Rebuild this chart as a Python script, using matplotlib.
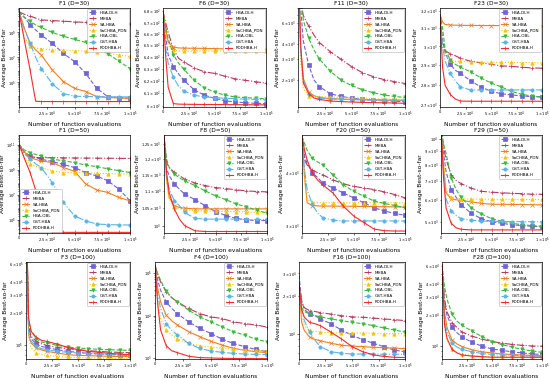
"""Convergence curves of seven HBA variants on CEC2017 functions (3 x 4 grid)."""

import math

import matplotlib
matplotlib.use("Agg")
import matplotlib.pyplot as plt
from matplotlib.ticker import LogLocator

X_EVALS = [0, 2500, 5000, 10000, 15000, 20000, 30000, 40000, 50000,
           60000, 70000, 80000, 90000, 100000]
X_TICKS = [0, 25000, 50000, 75000, 100000]
X_TICK_LABELS = ["0", r"$2.5\times10^{4}$", r"$5\times10^{4}$",
                 r"$7.5\times10^{4}$", r"$1\times10^{5}$"]

ALGORITHMS = ["HBA-DLH", "MHBA", "SA-HBA", "SaCHBA_PDN", "HBA-OBL",
              "GST-HBA", "PDDHBA-H"]
COLORS = ["#6f63d6", "#b83a5e", "#f07f1e", "#f5c400", "#3cb83c",
          "#5ab4e5", "#f52a2a"]
MARKERS = ["s", "+", "x", "^", "v", "o", "|"]
LINESTYLES = ["--", "-.", "-", ":", "--", "-.", "-"]

F1_D30 = {
    "HBA-DLH": [4.7e10, 2.5e10, 1.6e10, 4e9, 1.6e9, 6.3e8, 1.35e8, 2.1e7,
                4.7e6, 5.4e5, 3.4e4, 7.4e3, 6.2e3, 5.4e3],
    "MHBA": [4.7e10, 3.5e10, 2.8e10, 2e10, 1.4e10, 1e10, 8.9e9, 7.9e9,
             7.1e9, 6.3e9, 6e9, 5.6e9, 5.2e9, 5e9],
    "SA-HBA": [4.7e10, 1e10, 2e9, 1.35e8, 4e7, 1.6e7, 1e6, 1.2e5, 3.4e4,
               1.9e4, 7.4e3, 6.3e3, 5.8e3, 5.4e3],
    "SaCHBA_PDN": [4.7e10, 3.2e9, 4e8, 8e7, 5.6e7, 5e7, 4e7, 4e7, 3.5e7,
                   3.2e7, 2.8e7, 2.2e7, 1.6e7, 1.2e7],
    "HBA-OBL": [4.7e10, 2.5e10, 1.6e10, 7.9e9, 4e9, 2.5e9, 1e9, 5e8, 2.8e8,
                1.6e8, 6.3e7, 2e7, 5e6, 1.3e6],
    "GST-HBA": [4.7e10, 7.9e9, 1.6e9, 1.35e8, 1e7, 1.3e6, 8e4, 1.3e4, 8e3,
                7.6e3, 7.4e3, 7.2e3, 7.1e3, 7.1e3],
    "PDDHBA-H": [4.7e10, 3.2e9, 2e8, 1e6, 3.2e3, 3e3, 3e3, 3e3, 3e3, 3e3,
                 3e3, 3e3, 3e3, 3e3],
}

F6_D30 = {
    "HBA-DLH": [680, 658, 642, 632, 626, 620.7, 613, 608.5, 606, 604, 603,
                602.4, 601.9, 601.7],
    "MHBA": [680, 670, 661.5, 647, 639, 636, 631, 627.6, 626.3, 624, 621.8,
             620.6, 619.4, 618.2],
    "SA-HBA": [680, 664.7, 652.8, 648.5, 647.8, 647.6, 647.5, 647.4, 647.2,
               647, 646.9, 646.8, 646.6, 646.5],
    "SaCHBA_PDN": [680, 663, 650, 645.8, 645.2, 645, 645, 645.1, 645.2,
                   645.3, 645.3, 645.3, 645.3, 645.3],
    "HBA-OBL": [680, 667, 656, 642, 635, 630, 620.6, 614.5, 611, 608.5, 607,
                606.5, 606, 605.6],
    "GST-HBA": [680, 648, 635, 623, 616, 612, 608.5, 607, 606.5, 606, 605.6,
                605.3, 605, 604.8],
    "PDDHBA-H": [680, 642, 615, 601.7, 601.3, 601.2, 601.1, 601, 601, 600.9,
                 600.8, 600.8, 600.7, 600.7],
}

F11_D30 = {
    "HBA-DLH": [2e4, 8000, 4230, 2660, 2000, 1762, 1540, 1459, 1413, 1380,
                1355, 1340, 1330, 1320],
    "MHBA": [2e4, 9000, 6900, 5640, 4740, 4110, 3460, 2990, 2590, 2310, 2140,
             2020, 1940, 1870],
    "SA-HBA": [2e4, 3560, 2060, 1590, 1480, 1428, 1400, 1385, 1375, 1370,
               1365, 1360, 1357, 1355],
    "SaCHBA_PDN": [2e4, 2825, 1682, 1484, 1459, 1450, 1440, 1430, 1420, 1410,
                   1400, 1390, 1385, 1376],
    "HBA-OBL": [2e4, 1e4, 6320, 4470, 3560, 2990, 2380, 2000, 1800, 1660,
                1570, 1500, 1460, 1430],
    "GST-HBA": [2e4, 3360, 2000, 1540, 1459, 1413, 1390, 1380, 1372, 1368,
                1364, 1360, 1357, 1355],
    "PDDHBA-H": [2e4, 3980, 1890, 1540, 1413, 1376, 1336, 1320, 1310, 1300,
                 1295, 1290, 1285, 1278],
}

F23_D30 = {
    "HBA-DLH": [3178, 3034, 2969, 2905, 2874, 2858, 2820, 2789, 2767, 2755,
                2749, 2744, 2741, 2740],
    "MHBA": [3178, 3018, 2977, 2961, 2950, 2937, 2921, 2913, 2905, 2897,
             2894, 2890, 2886, 2885],
    "SA-HBA": [3178, 3135, 3121, 3118, 3117, 3116, 3116, 3115, 3115, 3115,
               3114, 3114, 3114, 3114],
    "SaCHBA_PDN": [3178, 3002, 2953, 2929, 2921, 2921, 2918, 2916, 2916,
                   2915, 2915, 2914, 2914, 2913],
    "HBA-OBL": [3178, 3101, 2985, 2929, 2905, 2890, 2866, 2835, 2809, 2789,
                2767, 2752, 2744, 2737],
    "GST-HBA": [3178, 3002, 2921, 2858, 2820, 2789, 2774, 2774, 2774, 2774,
                2774, 2774, 2774, 2774],
    "PDDHBA-H": [3178, 2890, 2797, 2752, 2729, 2719, 2718, 2718, 2718, 2718,
                 2718, 2718, 2718, 2718],
}

F1_D50 = {
    "HBA-DLH": [1.2e11, 5e10, 2.8e10, 1.35e10, 1e10, 7.4e9, 4.8e9, 2.8e9,
                1.6e9, 6.3e8, 3.4e8, 1.35e8, 3e7, 3.4e6],
    "MHBA": [1.2e11, 5e10, 2.5e10, 1.1e10, 1e10, 1e10, 9.8e9, 9.6e9, 9.4e9,
             9.2e9, 9e9, 8.9e9, 8.7e9, 8.5e9],
    "SA-HBA": [1.2e11, 5e10, 2.8e10, 1e10, 7.1e9, 5.4e9, 4e9, 1.6e9, 7.9e8,
               7.9e7, 2.5e7, 1.6e7, 6.3e6, 3.4e6],
    "SaCHBA_PDN": [1.2e11, 2.5e10, 1e10, 3e9, 2e9, 1.6e9, 8.5e8, 6.3e8,
                   6.3e8, 6e8, 5.6e8, 5.2e8, 5e8, 4.7e8],
    "HBA-OBL": [1.2e11, 6.3e10, 4e10, 2.5e10, 1.8e10, 1.35e10, 7.4e9, 5.6e9,
                4e9, 2.5e9, 1.9e9, 1.26e9, 8.9e8, 6.3e8],
    "GST-HBA": [1.2e11, 4e10, 2e10, 7.4e9, 3.2e9, 1.6e9, 1e8, 2.5e6, 2.1e5,
                8.5e4, 4.7e4, 4.2e4, 4e4, 3.9e4],
    "PDDHBA-H": [1.2e11, 3.2e10, 7.9e9, 6.3e8, 2.5e7, 1e6, 1e4, 1e4, 1e4,
                 1e4, 1e4, 1e4, 1e4, 1e4],
}

F8_D50 = {
    "HBA-DLH": [1279, 1168, 1147, 1121, 1105, 1090, 1074, 1056, 1039, 1028,
                1020, 1016, 1014, 1014],
    "MHBA": [1279, 1189, 1173, 1157, 1147, 1136, 1124, 1116, 1110, 1107,
             1103, 1100, 1098, 1097],
    "SA-HBA": [1279, 1136, 1080, 1056, 1051, 1049, 1047, 1047, 1047, 1047,
               1047, 1047, 1047, 1047],
    "SaCHBA_PDN": [1279, 1126, 1076, 1051, 1048, 1045, 1042, 1041, 1040,
                   1039, 1039, 1038, 1037, 1037],
    "HBA-OBL": [1279, 1200, 1173, 1152, 1140, 1131, 1116, 1100, 1085, 1074,
                1061, 1053, 1043, 1035],
    "GST-HBA": [1279, 1147, 1105, 1071, 1056, 1037, 1020, 1018, 1018, 1018,
                1018, 1017, 1017, 1017],
    "PDDHBA-H": [1279, 1157, 1095, 1047, 1018, 1000, 986, 984, 984, 984, 984,
                 984, 984, 984],
}

F20_D50 = {
    "HBA-DLH": [4863, 4357, 4204, 3986, 3900, 3778, 3680, 3583, 3489, 3397,
                3308, 3249, 3209, 3174],
    "MHBA": [4863, 4280, 4167, 4056, 4000, 3951, 3846, 3765, 3712, 3680,
             3648, 3603, 3552, 3489],
    "SA-HBA": [4863, 3916, 3397, 3347, 3340, 3337, 3337, 3335, 3333, 3330,
               3328, 3325, 3322, 3319],
    "SaCHBA_PDN": [4863, 3778, 3459, 3411, 3400, 3397, 3397, 3397, 3397,
                   3397, 3397, 3397, 3397, 3397],
    "HBA-OBL": [4863, 4677, 4512, 4318, 4240, 4167, 3951, 3745, 3616, 3520,
                3428, 3385, 3347, 3308],
    "GST-HBA": [4863, 4056, 3648, 3366, 3220, 3135, 3092, 3080, 3080, 3080,
                3080, 3080, 3080, 3080],
    "PDDHBA-H": [4863, 4512, 4280, 3986, 3846, 3745, 3583, 3337, 3165, 3053,
                 2947, 2921, 2916, 2916],
}

F29_D50 = {
    "HBA-DLH": [11000, 8853, 7601, 6525, 6126, 5752, 5357, 5128, 5000, 4937,
                4875, 4838, 4813, 4789],
    "MHBA": [11000, 9315, 8414, 7409, 7044, 6867, 6609, 6443, 6396, 6365,
             6333, 6317, 6285, 6285],
    "SA-HBA": [11000, 7998, 6365, 6048, 6000, 5975, 5898, 5825, 5782, 5782,
               5775, 5770, 5760, 5752],
    "SaCHBA_PDN": [11000, 8414, 6525, 6126, 6048, 6048, 6040, 6035, 6030,
                   6025, 6022, 6020, 6019, 6019],
    "HBA-OBL": [11000, 9550, 8853, 7224, 6525, 6126, 5606, 5330, 5128, 5025,
                4937, 4875, 4838, 4813],
    "GST-HBA": [11000, 7601, 6048, 5466, 5262, 5128, 5064, 5025, 5015, 5010,
                5005, 5000, 5000, 5000],
    "PDDHBA-H": [11000, 7224, 5606, 4937, 4752, 4692, 4669, 4669, 4669, 4669,
                 4669, 4669, 4669, 4669],
}

F3_D100 = {
    "HBA-DLH": [2.5e6, 1.44e5, 1.14e5, 1.015e5, 9.6e4, 9.43e4, 8.96e4, 8.64e4,
                8.45e4, 8.27e4, 8.15e4, 8.03e4, 7.97e4, 7.91e4],
    "MHBA": [2.5e6, 1.5e5, 1.2e5, 1.076e5, 1.02e5, 9.85e4, 9.43e4, 9.16e4,
             8.96e4, 8.77e4, 8.64e4, 8.51e4, 8.45e4, 8.39e4],
    "SA-HBA": [2.5e6, 1.245e5, 1.037e5, 9.3e4, 8.9e4, 8.64e4, 8.33e4, 8.03e4,
               7.91e4, 7.86e4, 7.8e4, 7.75e4, 7.72e4, 7.69e4],
    "SaCHBA_PDN": [2.5e6, 1.157e5, 9.3e4, 8.33e4, 8.03e4, 7.91e4, 7.69e4,
                   7.58e4, 7.52e4, 7.5e4, 7.46e4, 7.42e4, 7.39e4, 7.36e4],
    "HBA-OBL": [2.5e6, 1.67e5, 1.34e5, 1.14e5, 1.06e5, 1.037e5, 9.85e4, 9.5e4,
                9.3e4, 9.16e4, 9.03e4, 8.96e4, 8.9e4, 8.83e4],
    "GST-HBA": [2.5e6, 1.34e5, 1.076e5, 9.64e4, 9.16e4, 8.96e4, 8.64e4,
                8.45e4, 8.33e4, 8.21e4, 8.15e4, 8.09e4, 8.03e4, 8.03e4],
    "PDDHBA-H": [2.5e6, 1.8e5, 1.34e5, 1.175e5, 1.1e5, 1.076e5, 1.015e5,
                 9.43e4, 8.96e4, 8.64e4, 8.45e4, 8.27e4, 8.15e4, 8.03e4],
}

F4_D100 = {
    "HBA-DLH": [1.48e5, 6.6e4, 3.9e4, 2.08e4, 1.46e4, 1.11e4, 7.1e3, 5.0e3,
                3.8e3, 2.8e3, 2.23e3, 1.87e3, 1.62e3, 1.43e3],
    "MHBA": [1.48e5, 8.7e4, 6.1e4, 3.55e4, 2.6e4, 2.08e4, 1.46e4, 1.11e4,
             9.3e3, 8.5e3, 7.1e3, 6.5e3, 6.0e3, 5.4e3],
    "SA-HBA": [1.48e5, 4.2e4, 2.08e4, 1.02e4, 7.5e3, 6.0e3, 4.2e3, 3.2e3,
               2.5e3, 2.04e3, 1.71e3, 1.54e3, 1.43e3, 1.36e3],
    "SaCHBA_PDN": [1.48e5, 2.08e4, 8.5e3, 4.6e3, 3.5e3, 2.8e3, 2.23e3,
                   1.97e3, 1.84e3, 1.71e3, 1.65e3, 1.59e3, 1.54e3, 1.51e3],
    "HBA-OBL": [1.48e5, 9.5e4, 6.6e4, 3.7e4, 2.6e4, 2.08e4, 1.33e4, 9.3e3,
                7.1e3, 5.4e3, 4.2e3, 3.5e3, 2.8e3, 2.44e3],
    "GST-HBA": [1.48e5, 2.97e4, 1.46e4, 6.5e3, 4.5e3, 3.5e3, 2.23e3, 1.71e3,
                1.48e3, 1.38e3, 1.31e3, 1.26e3, 1.24e3, 1.22e3],
    "PDDHBA-H": [1.48e5, 1.74e4, 4.6e3, 1.97e3, 1.5e3, 1.36e3, 1.12e3,
                 1.04e3, 1.02e3, 1.0e3, 995, 990, 985, 982],
}

F16_D100 = {
    "HBA-DLH": [2.9e4, 1.81e4, 1.56e4, 1.43e4, 1.39e4, 1.31e4, 1.2e4, 1.07e4,
                9.7e3, 8.98e3, 8.4e3, 7.9e3, 7.4e3, 7.2e3],
    "MHBA": [2.5e4, 1.81e4, 1.61e4, 1.52e4, 1.5e4, 1.47e4, 1.43e4, 1.39e4,
             1.36e4, 1.35e4, 1.33e4, 1.31e4, 1.29e4, 1.27e4],
    "SA-HBA": [2.5e4, 1.23e4, 1.06e4, 9.4e3, 9.0e3, 8.8e3, 8.4e3, 8.1e3,
               7.97e3, 7.9e3, 7.8e3, 7.74e3, 7.7e3, 7.6e3],
    "SaCHBA_PDN": [2.5e4, 1.35e4, 1.16e4, 1.06e4, 1.04e4, 1.03e4, 1.02e4,
                   1.01e4, 1.01e4, 1.01e4, 1.01e4, 1.0e4, 1.0e4, 1.0e4],
    "HBA-OBL": [2.5e4, 1.61e4, 1.5e4, 1.43e4, 1.39e4, 1.36e4, 1.31e4, 1.27e4,
                1.23e4, 1.2e4, 1.16e4, 1.11e4, 1.07e4, 1.03e4],
    "GST-HBA": [2.5e4, 1.52e4, 1.27e4, 1.03e4, 8.9e3, 7.9e3, 7.2e3, 7.0e3,
                6.9e3, 6.9e3, 6.9e3, 6.87e3, 6.87e3, 6.87e3],
    "PDDHBA-H": [2.5e4, 1.56e4, 1.35e4, 1.23e4, 1.2e4, 1.16e4, 1.03e4,
                 9.1e3, 7.9e3, 7.2e3, 6.8e3, 6.6e3, 6.5e3, 6.47e3],
}

F28_D100 = {
    "HBA-DLH": [6.2e4, 2.67e4, 2.0e4, 1.52e4, 1.35e4, 1.23e4, 1.09e4, 1.0e4,
                9.4e3, 9.1e3, 8.8e3, 8.6e3, 8.4e3, 8.3e3],
    "MHBA": [6.2e4, 2.87e4, 2.16e4, 1.69e4, 1.52e4, 1.37e4, 1.25e4, 1.17e4,
             1.11e4, 1.07e4, 1.04e4, 1.02e4, 1.005e4, 1.0e4],
    "SA-HBA": [6.2e4, 2.16e4, 1.52e4, 1.15e4, 1.05e4, 9.9e3, 9.2e3, 8.8e3,
               8.6e3, 8.4e3, 8.3e3, 8.2e3, 8.1e3, 8.05e3],
    "SaCHBA_PDN": [6.2e4, 1.52e4, 1.15e4, 9.3e3, 8.7e3, 8.4e3, 8.1e3, 8.0e3,
                   7.9e3, 7.85e3, 7.8e3, 7.8e3, 7.8e3, 7.8e3],
    "HBA-OBL": [6.2e4, 3.8e4, 2.87e4, 2.05e4, 1.75e4, 1.6e4, 1.4e4, 1.24e4,
                1.11e4, 1.035e4, 9.8e3, 9.3e3, 9.0e3, 8.7e3],
    "GST-HBA": [6.2e4, 1.88e4, 1.38e4, 1.07e4, 9.8e3, 9.3e3, 8.8e3, 8.5e3,
                8.3e3, 8.2e3, 8.15e3, 8.1e3, 8.05e3, 8.0e3],
    "PDDHBA-H": [6.2e4, 1.63e4, 1.19e4, 9.3e3, 8.6e3, 8.2e3, 8.0e3, 7.9e3,
                 7.8e3, 7.8e3, 7.8e3, 7.8e3, 7.8e3, 7.8e3],
}

PANELS = [
    ("F1 (D=30)", F1_D30, (1.1e3, 9e10), "upper right"),
    ("F6 (D=30)", F6_D30, (599, 683), "upper right"),
    ("F11 (D=30)", F11_D30, (1190, 8000), "upper right"),
    ("F23 (D=30)", F23_D30, (2690, 3215), "upper right"),
    ("F1 (D=50)", F1_D50, (8.9e3, 6.5e11), "lower left"),
    ("F8 (D=50)", F8_D50, (980, 1282), "upper right"),
    ("F20 (D=50)", F20_D50, (2885, 4900), "upper right"),
    ("F29 (D=50)", F29_D50, (4550, 10300), "upper right"),
    ("F3 (D=100)", F3_D100, (7.3e4, 6.2e5), "upper right"),
    ("F4 (D=100)", F4_D100, (965, 1.78e5), "upper right"),
    ("F16 (D=100)", F16_D100, (6.3e3, 3.7e4), "upper right"),
    ("F28 (D=100)", F28_D100, (7.5e3, 6.6e4), "upper right"),
]

# axes boxes in pixels: left, top, right, bottom
BOXES = [
    (19, 8, 130, 107), (163, 8, 266, 107), (298, 8, 405, 107), (440, 8, 542, 107),
    (19, 135, 130, 233), (164, 135, 267, 233), (302, 135, 405, 233), (441, 135, 542, 233),
    (26, 262, 130, 359), (155, 262, 267, 359), (299, 262, 405, 359), (442, 262, 542, 359),
]

W, H = 550, 378
MARK_IDX = [3, 5, 6, 7, 8, 9, 10, 11, 12, 13]


def draw_panel(ax, title, curves, ylim, legend_loc):
    for name, color, marker, ls in zip(ALGORITHMS, COLORS, MARKERS, LINESTYLES):
        ax.plot(X_EVALS, curves[name], color=color, linestyle=ls, linewidth=0.8,
                marker=marker, markersize=2.4, markeredgewidth=0.5,
                markevery=MARK_IDX, label=name)
    ax.set_yscale("log")
    ax.set_xlim(0, 100000)
    ax.set_ylim(*ylim)
    # wide ranges: one label every other decade, like the source figure
    if math.log10(ylim[1] / ylim[0]) > 4:
        ax.yaxis.set_major_locator(LogLocator(base=10, numticks=5))
    ax.set_xticks(X_TICKS)
    ax.set_xticklabels(X_TICK_LABELS)
    ax.tick_params(which="both", labelsize=2.6, length=1.5, width=0.4, pad=0.8)
    ax.tick_params(which="minor", length=0.8)
    for sp in ax.spines.values():
        sp.set_linewidth(0.5)
    ax.set_title(title, fontsize=4.2, pad=2)
    ax.set_xlabel("Number of function evaluations", fontsize=4.2, labelpad=1.5)
    ax.set_ylabel("Average Best-so-far", fontsize=4.2, labelpad=0.8)
    leg = ax.legend(loc=legend_loc, fontsize=3.0, handlelength=1.8,
                    borderpad=0.4, labelspacing=0.45, borderaxespad=0.3,
                    framealpha=1, edgecolor="#b0b0b0")
    leg.get_frame().set_linewidth(0.4)


fig = plt.figure(figsize=(W / 100, H / 100), dpi=100)
for (title, curves, ylim, loc), (l, t, r, b) in zip(PANELS, BOXES):
    ax = fig.add_axes([l / W, 1 - b / H, (r - l) / W, (b - t) / H])
    draw_panel(ax, title, curves, ylim, loc)

fig.savefig("out.png", dpi=100)
